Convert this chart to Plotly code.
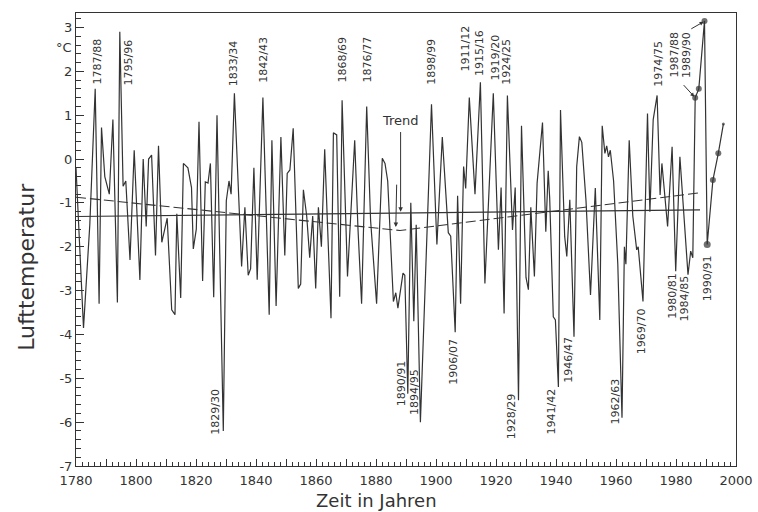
import plotly.graph_objects as go

# ---- data ----
years = [1780.0, 1781.0, 1782.5, 1784.6, 1786.4, 1787.7, 1788.5, 1789.6, 1791.1, 1792.3,
         1793.8, 1794.6, 1795.7, 1796.6, 1798.0, 1799.4, 1801.3, 1802.4, 1803.4, 1804.2,
         1805.2, 1806.5, 1807.5, 1808.6, 1810.4, 1811.9, 1813.0, 1813.6, 1814.9, 1815.8,
         1817.3, 1818.5, 1819.1, 1820.1, 1821.0, 1822.2, 1823.1, 1824.0, 1824.8, 1825.9,
         1827.0, 1829.1, 1830.1, 1831.0, 1831.7, 1832.8, 1835.2, 1836.3, 1837.4, 1838.2,
         1839.3, 1840.4, 1842.3, 1844.4, 1845.3, 1846.7, 1848.3, 1849.6, 1850.4, 1851.3,
         1852.4, 1854.1, 1854.9, 1855.8, 1856.9, 1857.9, 1858.9, 1859.9, 1860.8, 1861.8,
         1862.9, 1865.0, 1865.8, 1866.9, 1867.9, 1868.7, 1870.5, 1872.9, 1874.0, 1875.2,
         1876.9, 1878.2, 1880.2, 1882.1, 1883.0, 1883.9, 1885.8, 1886.6, 1887.3, 1889.0,
         1889.6, 1890.6, 1891.6, 1892.6, 1893.4, 1894.8, 1898.5, 1900.3, 1902.1, 1904.1,
         1904.9, 1906.4, 1907.2, 1908.2, 1909.2, 1909.9, 1911.1, 1913.0, 1914.8, 1916.3,
         1919.1, 1920.8, 1921.7, 1922.7, 1923.8, 1925.5, 1926.4, 1927.5, 1928.5, 1930.0,
         1930.8, 1931.6, 1932.8, 1933.7, 1935.5, 1936.6, 1937.4, 1937.9, 1939.1, 1939.8,
         1940.8, 1941.5, 1942.9, 1943.6, 1944.6, 1946.0, 1946.9, 1947.8, 1948.6, 1950.0,
         1951.5, 1953.1, 1954.6, 1955.4, 1956.3, 1956.9, 1957.5, 1958.1, 1959.2, 1960.6,
         1962.0, 1962.8, 1963.3, 1964.4, 1965.6, 1966.9, 1967.4, 1969.0, 1970.5, 1971.3,
         1972.4, 1973.7, 1974.7, 1975.3, 1977.2, 1978.7, 1979.9, 1981.3, 1984.0, 1984.9,
         1985.6]
temps = [-0.2, -1.55, -3.85, -1.5, 1.6, -3.3, 0.72, -0.4, -0.8, 0.9,
         -3.27, 2.9, -0.62, -0.5, -2.3, 0.2, -2.76, 0.0, -1.54, 0.0,
         0.09, -2.2, 0.3, -1.9, -1.35, -3.44, -3.55, -1.25, -3.17, -0.1,
         -0.2, -0.65, -2.05, -1.6, 0.85, -2.78, -0.52, -0.55, -0.1, -3.15,
         1.0, -6.2, -0.95, -0.5, -0.8, 1.5, -2.45, -1.1, -2.65, -2.5,
         -0.2, -2.75, 1.4, -3.55, 0.43, -3.35, 0.5, -2.2, -0.33, -0.25,
         0.7, -2.95, -2.85, -0.7, -1.3, -2.25, -1.3, -2.95, -1.1, -2.0,
         0.22, -3.63, 0.6, 0.55, -3.14, 1.34, -2.68, 0.43, -1.6, -3.3,
         1.2, -1.4, -3.3, 0.02, -0.1, -0.5, -3.25, -3.05, -3.4, -2.6,
         -2.65, -5.35, -1.0, -3.7, -1.5, -6.0, 1.25, -1.95, 0.5, -1.68,
         -1.76, -3.95, -0.84, -3.3, -0.17, -0.67, 1.4, -0.8, 1.75, -2.84,
         1.5, -2.07, -0.65, -3.52, 1.45, -1.62, -0.65, -5.5, 0.76, -2.7,
         -2.98, -1.1, -2.68, -0.55, 0.83, -1.66, -0.27, -0.9, -3.6, -3.67,
         -5.2, 1.12, -1.77, -2.22, -0.93, -4.05, -0.17, 0.51, 0.38, -0.95,
         -3.1, -0.66, -3.67, 0.76, 0.13, 0.3, 0.05, 0.2, -0.5, -2.4,
         -5.9, -2.0, -2.4, 0.43, -1.3, -2.07, -2.0, -3.25, 1.04, -1.2,
         0.9, 1.45, -0.82, -0.1, -1.54, 0.28, -2.56, 0.05, -2.64, -2.1,
         -2.25]
# recent winters drawn with dots
recent_years = [1986.4, 1987.6, 1989.5, 1990.4, 1992.3, 1994.1, 1995.8]
recent_temps = [1.4, 1.6, 3.15, -1.95, -0.48, 0.13, 0.8]

# trend lines
lin_trend_years = [1780, 1988]
lin_trend_vals = [-1.31, -1.16]
v_trend_years = [1780, 1888, 1988]
v_trend_vals = [-0.87, -1.63, -0.77]

# labelled winters: (text, x, y-end of text)
labels_top = [("1787/88", 1787.3, 1.65), ("1795/96", 1797.5, 1.62), ("1833/34", 1832.5, 1.6),
              ("1842/43", 1842.4, 1.7), ("1868/69", 1868.7, 1.7), ("1876/77", 1877.0, 1.7),
              ("1898/99", 1898.7, 1.65), ("1911/12", 1910.0, 1.95), ("1915/16", 1914.7, 1.85),
              ("1919/20", 1919.7, 1.75), ("1924/25", 1923.7, 1.65), ("1974/75", 1974.3, 1.6),
              ("1987/88", 1979.5, 1.8), ("1989/90", 1983.3, 1.8)]
labels_bottom = [("1829/30", 1826.2, -5.2), ("1890/91", 1888.6, -4.55), ("1894/95", 1892.9, -4.75),
                 ("1906/07", 1906.0, -4.05), ("1928/29", 1925.3, -5.3), ("1941/42", 1938.5, -5.2),
                 ("1946/47", 1944.1, -4.0), ("1962/63", 1959.8, -4.95), ("1969/70", 1968.5, -3.37),
                 ("1980/81", 1979.0, -2.55), ("1984/85", 1982.8, -2.6), ("1990/91", 1990.3, -2.15)]

y_ticks = [3, 2, 1, 0, -1, -2, -3, -4, -5, -6, -7]
x_ticks = list(range(1780, 2001, 10))

INK = "#333333"
FONT = "DejaVu Sans"

all_years = years + recent_years
all_temps = temps + recent_temps
sizes = [0] * len(years) + [6, 6, 6, 7, 6, 6, 3]

fig = go.Figure()
fig.add_trace(go.Scatter(x=lin_trend_years, y=lin_trend_vals, mode="lines",
                         line=dict(color=INK, width=1.1), hoverinfo="skip"))
fig.add_trace(go.Scatter(x=v_trend_years, y=v_trend_vals, mode="lines",
                         line=dict(color=INK, width=1.1, dash="10px,4px"), hoverinfo="skip"))
fig.add_trace(go.Scatter(x=all_years, y=all_temps, mode="lines+markers",
                         line=dict(color=INK, width=1.2),
                         marker=dict(size=sizes, color=INK, line=dict(width=0))))

ann = []
for t, x, y in labels_top:
    ann.append(dict(x=x, y=y, xref="x", yref="y", text=t, textangle=-90, showarrow=False,
                    xanchor="center", yanchor="bottom", font=dict(family=FONT, size=11, color=INK)))
for t, x, y in labels_bottom:
    ann.append(dict(x=x, y=y, xref="x", yref="y", text=t, textangle=-90, showarrow=False,
                    xanchor="center", yanchor="top", font=dict(family=FONT, size=11, color=INK)))
# Trend label and arrows
ann.append(dict(x=1888.3, y=0.89, xref="x", yref="y", text="Trend", showarrow=False,
                font=dict(family=FONT, size=13, color=INK)))
ann.append(dict(x=1888.2, y=-1.2, ax=1888.2, ay=0.65, xref="x", yref="y", axref="x", ayref="y",
                text="", showarrow=True, arrowhead=2, arrowsize=0.9, arrowwidth=1, arrowcolor=INK))
ann.append(dict(x=1886.6, y=-1.55, ax=1886.9, ay=-0.55, xref="x", yref="y", axref="x", ayref="y",
                text="", showarrow=True, arrowhead=2, arrowsize=0.9, arrowwidth=1, arrowcolor=INK))
# leaders for the recent labels
ann.append(dict(x=1989.2, y=3.13, ax=1984.6, ay=2.95, xref="x", yref="y", axref="x", ayref="y",
                text="", showarrow=True, arrowhead=2, arrowsize=0.8, arrowwidth=1, arrowcolor=INK))
ann.append(dict(x=1986.1, y=1.42, ax=1982.1, ay=1.72, xref="x", yref="y", axref="x", ayref="y",
                text="", showarrow=True, arrowhead=2, arrowsize=0.8, arrowwidth=1, arrowcolor=INK))
# unit
ann.append(dict(x=-0.003, y=2.55, xref="paper", yref="y", text="°C", showarrow=False,
                xanchor="right", font=dict(family=FONT, size=13, color=INK)))
# axis titles
ann.append(dict(x=0.455, y=-0.076, xref="paper", yref="paper", text="Zeit in Jahren", showarrow=False,
                xanchor="center", yanchor="middle", font=dict(family=FONT, size=18, color=INK)))
ann.append(dict(x=-0.074, y=0.44, xref="paper", yref="paper", text="Lufttemperatur", showarrow=False,
                textangle=-90, xanchor="center", yanchor="middle", font=dict(family=FONT, size=22, color=INK)))

fig.update_layout(
    width=758, height=512,
    margin=dict(l=76, r=22, t=13, b=46, autoexpand=False),
    paper_bgcolor="white", plot_bgcolor="white",
    showlegend=False,
    annotations=ann,
    xaxis=dict(range=[1780, 2000], tickvals=x_ticks,
               ticktext=[str(v) if (v - 1780) % 20 == 0 else "" for v in x_ticks],
               ticks="inside", ticklen=7, tickcolor=INK, tickwidth=1,
               minor=dict(dtick=2, ticks="inside", ticklen=4, tickcolor=INK),
               showline=True, linecolor=INK, linewidth=1, mirror=True,
               showgrid=False, zeroline=False, ticklabelstandoff=2, automargin=False,
               tickfont=dict(family=FONT, size=13, color=INK)),
    yaxis=dict(range=[-7, 3.33], tickvals=y_ticks, ticktext=[str(v) for v in y_ticks],
               ticks="inside", ticklen=8, tickcolor=INK, tickwidth=1,
               minor=dict(dtick=0.2, ticks="inside", ticklen=5, tickcolor=INK),
               showline=True, linecolor=INK, linewidth=1, mirror=True,
               showgrid=False, zeroline=False, automargin=False,
               tickfont=dict(family=FONT, size=13, color=INK)),
)

fig.write_html("out.html", config={"displayModeBar": False},
               post_script="document.body.style.margin='0px';document.body.style.overflow='hidden';")
